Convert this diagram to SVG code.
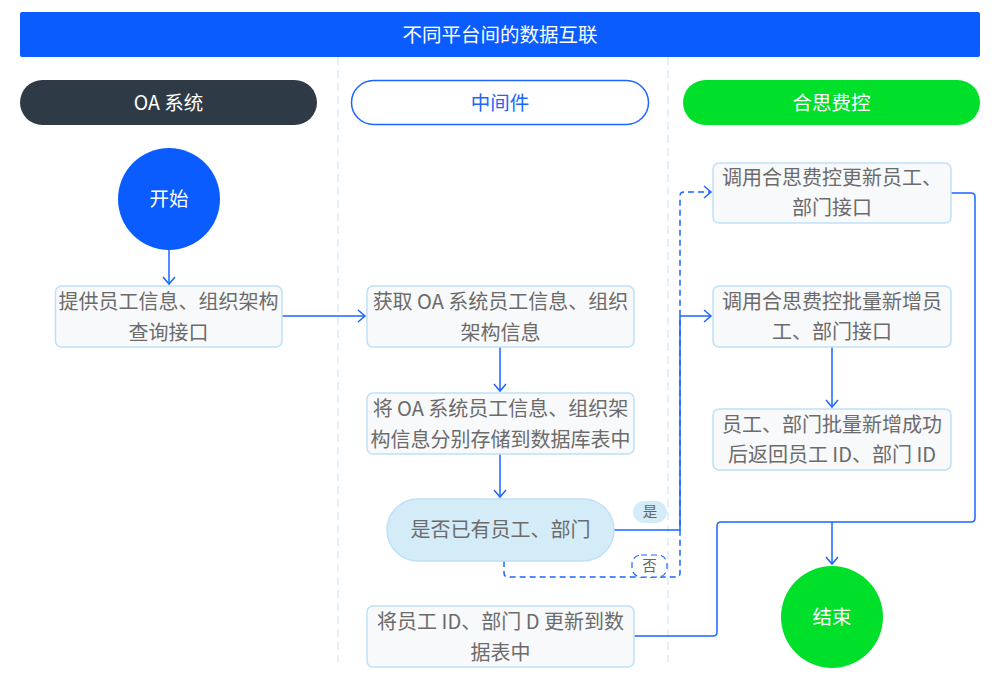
<svg xmlns="http://www.w3.org/2000/svg" width="1000" height="680" viewBox="0 0 1000 680">
<style>
text{font-family:"Noto Sans CJK SC","Liberation Sans",sans-serif;text-anchor:middle}
.box{fill:#F8F9FA;stroke:#BFE1F7;stroke-width:1.5}
.t{font-size:20px;fill:#6B6B6B}
.w{font-size:19.5px;fill:#fff}
.c{fill:none;stroke:#1A66FF;stroke-width:1.5}
.d{stroke-dasharray:6 4}
.lane{stroke:#D6E7F3;stroke-width:1.2;stroke-dasharray:8 5}
</style>
<defs>
<marker id="a" markerUnits="userSpaceOnUse" markerWidth="12" markerHeight="14" refX="9" refY="7" orient="auto">
<path d="M2,1 L9,7 L2,13" fill="none" stroke="#1A66FF" stroke-width="1.5"/>
</marker>
</defs>
<rect width="1000" height="680" fill="#fff"/>
<g id="title">
<rect x="20" y="12" width="960" height="45" rx="2" fill="#0A5CFF"/>
<text x="500" y="42" class="w">不同平台间的数据互联</text>
</g>
<g id="lanes">
<line x1="338" y1="57" x2="338" y2="662" class="lane"/>
<line x1="668" y1="57" x2="668" y2="662" class="lane"/>
</g>
<g id="lane-oa">
<rect x="20" y="80" width="297" height="45" rx="22.5" fill="#2E3A46"/>
<text x="168.5" y="110" class="w">OA 系统</text>
</g>
<g id="lane-mid">
<rect x="351.5" y="80.5" width="297" height="44" rx="22" fill="#fff" stroke="#1A66FF" stroke-width="1.5"/>
<text x="500" y="110" class="w" style="fill:#1A66FF">中间件</text>
</g>
<g id="lane-hs">
<rect x="683" y="80" width="297" height="45" rx="22.5" fill="#00E02A"/>
<text x="831.5" y="110" class="w">合思费控</text>
</g>
<g id="connectors">
<path class="c" d="M169,250 V284" marker-end="url(#a)"/>
<path class="c" d="M282,316 H365" marker-end="url(#a)"/>
<path class="c" d="M500,347 V391" marker-end="url(#a)"/>
<path class="c" d="M500,454 V497" marker-end="url(#a)"/>
<path class="c" d="M614,530 H680 V316 H711" marker-end="url(#a)"/>
<path class="c d" d="M504,561 V573 Q504,577 508,577 H676 Q680,577 680,573 V196 Q680,192 684,192 H711" marker-end="url(#a)"/>
<path class="c" d="M832,347 V407" marker-end="url(#a)"/>
<path class="c" d="M951,193 H971 Q975,193 975,197 V518 Q975,522 971,522 H721 Q717,522 717,526 V632 Q717,636 713,636 H634"/>
<path class="c" d="M832,522 V564" marker-end="url(#a)"/>
</g>
<g id="label-yes">
<rect x="633" y="501" width="34" height="22" rx="11" fill="#D4EBF8"/>
<text x="650" y="517" style="font-size:14.5px;fill:#666">是</text>
</g>
<g id="label-no">
<rect x="632" y="555" width="35" height="22" rx="9" fill="#fff" stroke="#1A66FF" stroke-width="1.2" stroke-dasharray="6 4"/>
<text x="649.5" y="571" style="font-size:14.5px;fill:#666">否</text>
</g>
<g id="start">
<circle cx="169" cy="199" r="51" fill="#0A5CFF"/>
<text x="169" y="206" class="w">开始</text>
</g>
<g id="n1">
<rect x="55.5" y="286" width="226.5" height="61" rx="6" class="box"/>
<text x="168.5" y="309" class="t">提供员工信息、组织架构</text>
<text x="168.5" y="340" class="t">查询接口</text>
</g>
<g id="n2">
<rect x="367" y="286" width="267" height="61" rx="6" class="box"/>
<text x="500.5" y="309" class="t">获取 OA 系统员工信息、组织</text>
<text x="500.5" y="340" class="t">架构信息</text>
</g>
<g id="n3">
<rect x="367" y="393" width="267" height="61" rx="6" class="box"/>
<text x="500.5" y="416" class="t">将 OA 系统员工信息、组织架</text>
<text x="500.5" y="447" class="t">构信息分别存储到数据库表中</text>
</g>
<g id="decision">
<rect x="387" y="499" width="227" height="62" rx="31" fill="#D4EBF8" stroke="#BFE1F7" stroke-width="1.5"/>
<text x="500.5" y="537" class="t">是否已有员工、部门</text>
</g>
<g id="n4">
<rect x="367" y="606" width="267" height="61" rx="6" class="box"/>
<text x="500.5" y="629" class="t">将员工 ID、部门 D 更新到数</text>
<text x="500.5" y="660" class="t">据表中</text>
</g>
<g id="r1">
<rect x="713" y="163" width="238" height="60" rx="6" class="box"/>
<text x="832" y="185" class="t">调用合思费控更新员工、</text>
<text x="832" y="215" class="t">部门接口</text>
</g>
<g id="r2">
<rect x="713" y="286" width="238" height="61" rx="6" class="box"/>
<text x="832" y="309" class="t">调用合思费控批量新增员</text>
<text x="832" y="339" class="t">工、部门接口</text>
</g>
<g id="r3">
<rect x="713" y="409" width="238" height="61" rx="6" class="box"/>
<text x="832" y="432" class="t">员工、部门批量新增成功</text>
<text x="832" y="462" class="t">后返回员工 ID、部门 ID</text>
</g>
<g id="end">
<circle cx="832" cy="617" r="51" fill="#00E02A"/>
<text x="832" y="624" class="w">结束</text>
</g>
</svg>
